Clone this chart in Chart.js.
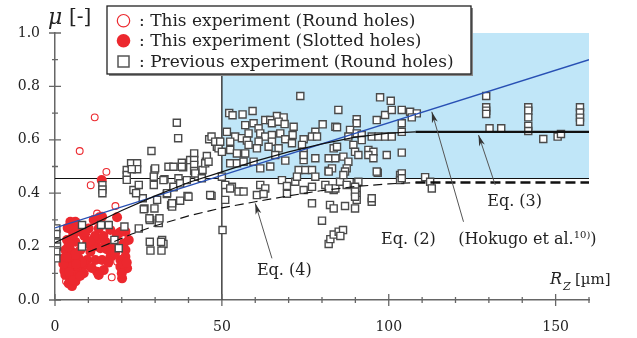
<!DOCTYPE html>
<html>
<head>
<meta charset="utf-8">
<script src="https://cdn.jsdelivr.net/npm/chart.js@4.4.0/dist/chart.umd.min.js"></script>
<style>
  html, body { margin: 0; padding: 0; background: #fff; }
  #wrap { width: 637px; height: 338px; }
</style>
</head>
<body>
<div id="wrap"><canvas id="chart" width="637" height="338"></canvas></div>
<script>
// tick labels
const xTickLabels = [0, 50, 100, 150];
const yTickLabels = ['0.0', '0.2', '0.4', '0.6', '0.8', '1.0'];

// legend labels
const seriesNames = [
  ': This experiment (Round holes)',
  ': This experiment (Slotted holes)',
  ': Previous experiment (Round holes)'
];

// this experiment, round holes  [Rz, mu]
const roundHoles = [
  [11.9, 0.684], [7.4, 0.558], [15.4, 0.48], [10.7, 0.43], [18.1, 0.352], [12.6, 0.324],
  [9.6, 0.236], [18.6, 0.143], [17, 0.085], [3.3, 0.07]
];

// this experiment, slotted holes
const slottedHoles = [
  [4.6, 0.293], [6.1, 0.293], [11.6, 0.3], [14.1, 0.312], [18.6, 0.31], [14, 0.449],
  [5.1, 0.262], [7.6, 0.256], [10.1, 0.268], [13.1, 0.268], [16.6, 0.262], [19.1, 0.25], [21.1, 0.256], [22.1, 0.225],
  [3.6, 0.225], [6.1, 0.218], [9.6, 0.212], [12.6, 0.225], [15.1, 0.218], [17.6, 0.212], [20.6, 0.212],
  [3.1, 0.187], [5.1, 0.181], [7.6, 0.187], [10.6, 0.181], [13.6, 0.194], [16.6, 0.187], [21.1, 0.187],
  [2.6, 0.156], [4.6, 0.15], [7.1, 0.156], [9.6, 0.15], [12.1, 0.15], [14.1, 0.15], [16.6, 0.162], [19.6, 0.15], [21.1, 0.162],
  [3.1, 0.125], [5.1, 0.125], [7.1, 0.119], [9.1, 0.131], [12.6, 0.106], [14.6, 0.112], [19.6, 0.125], [21.6, 0.119],
  [3.1, 0.094], [4.6, 0.087], [6.6, 0.094], [13.1, 0.094], [20.1, 0.081],
  [4.1, 0.062], [5.1, 0.052], [6.1, 0.069], [8.6, 0.1],
  [3.8, 0.27], [5.5, 0.245], [8.8, 0.24], [13.3, 0.31], [19.8, 0.256], [4, 0.2], [6, 0.17], [8, 0.14],
  [2.8, 0.11], [4.2, 0.105], [6.3, 0.135], [5.5, 0.075], [7.5, 0.09], [11, 0.12], [11.5, 0.2], [12, 0.24],
  [14.5, 0.24], [15.5, 0.19], [16, 0.14], [18, 0.175], [18.5, 0.24], [20, 0.1], [20.5, 0.135], [21.5, 0.14],
  [10.5, 0.22], [9, 0.255], [7, 0.275], [4.5, 0.21], [2.5, 0.135], [3.5, 0.16]
];

// previous experiments, round holes
const previousRound = [
  [0.4, 0.268], [0.4, 0.247], [0.5, 0.215], [0.6, 0.2], [0.4, 0.181], [0.4, 0.156],
  [8.1, 0.281], [16.1, 0.281], [20.8, 0.275], [13.8, 0.281], [8.1, 0.2], [19.1, 0.194], [17.8, 0.225],
  [14.2, 0.43], [14.2, 0.414], [14.2, 0.4],
  [21.5, 0.487], [21.5, 0.468], [21.5, 0.45], [22.8, 0.512], [24.6, 0.512], [24.6, 0.49], [23, 0.49],
  [23.5, 0.412], [25.1, 0.431], [26.3, 0.381], [24.3, 0.4],
  [28.9, 0.558], [36.5, 0.664], [36.9, 0.606], [29.8, 0.487], [29.6, 0.462], [29.6, 0.431], [32.8, 0.452],
  [34, 0.499], [35.5, 0.422], [37, 0.456], [38, 0.514], [38.4, 0.497], [40.5, 0.524], [41.7, 0.549],
  [41.7, 0.524], [41.7, 0.506], [41.7, 0.483], [42.9, 0.462], [44.2, 0.487], [45.2, 0.518], [45.5, 0.539],
  [46.2, 0.602], [46.9, 0.612], [48.5, 0.574], [49.2, 0.593], [46.9, 0.39], [39.7, 0.39], [37.5, 0.372],
  [33.5, 0.397], [34.8, 0.356], [30.6, 0.375], [26.8, 0.343], [29.8, 0.343],
  [26.6, 0.34], [28.4, 0.3], [31.1, 0.3], [31.1, 0.288], [25.1, 0.268], [28.4, 0.218], [28.6, 0.185],
  [32.1, 0.225], [32.5, 0.21], [31.9, 0.185], [35.1, 0.35], [35.1, 0.362], [40, 0.387], [33.6, 0.4],
  [35.5, 0.424], [37.5, 0.437], [39.5, 0.449], [32.5, 0.449], [38, 0.499], [42, 0.474], [44, 0.456],
  [45, 0.512], [46.5, 0.393], [50.2, 0.262], [28.3, 0.306], [31.3, 0.306], [31.8, 0.218],
  [35.5, 0.499], [30, 0.493], [46, 0.518], [49, 0.568],
  [73.5, 0.764], [52.2, 0.7], [53.2, 0.692], [56.2, 0.695], [59.2, 0.708], [66.5, 0.689], [68.5, 0.684],
  [63, 0.674], [64.5, 0.674], [80.2, 0.658], [57, 0.655], [59.5, 0.662], [61, 0.643], [65, 0.662],
  [67, 0.668], [68.8, 0.659], [71.5, 0.649], [78, 0.63], [84, 0.649], [51.5, 0.63], [54, 0.612],
  [56, 0.606], [58, 0.624], [61.5, 0.624], [63, 0.612], [65, 0.618], [67.5, 0.624], [71.2, 0.618],
  [74.5, 0.602], [77, 0.612], [78.5, 0.612], [48, 0.593], [49.5, 0.593], [52.5, 0.593], [57.5, 0.597],
  [61, 0.593], [65, 0.593], [69, 0.602], [71, 0.587], [74, 0.581],
  [50, 0.555], [52.5, 0.562], [54.5, 0.549], [57, 0.549], [58, 0.581], [60.5, 0.568], [64, 0.574],
  [67, 0.568], [74.5, 0.555], [78, 0.531], [82, 0.531], [83.5, 0.568],
  [52.5, 0.512], [54.5, 0.512], [56.5, 0.518], [59.5, 0.518], [66, 0.543], [69, 0.522], [74.5, 0.524],
  [74.5, 0.543], [61.5, 0.493], [64.5, 0.5], [73, 0.487], [75, 0.487], [77, 0.487], [82, 0.484],
  [78, 0.462], [50, 0.462],
  [53, 0.424], [55, 0.406], [56.5, 0.406], [61.5, 0.431], [63, 0.418], [68, 0.449], [69.5, 0.427],
  [72, 0.443], [72.5, 0.462], [74.5, 0.412], [77, 0.424], [81, 0.431], [83.5, 0.412], [60.5, 0.393],
  [69.5, 0.398], [51, 0.431], [52.5, 0.418], [62.5, 0.397], [84, 0.418], [85.4, 0.443], [87.4, 0.431],
  [90.4, 0.437], [90.4, 0.412], [90.4, 0.393], [90.4, 0.375], [94.9, 0.368], [77, 0.362], [82.4, 0.356],
  [83.5, 0.343], [86.9, 0.352], [89.9, 0.343], [80, 0.297], [82, 0.21], [82.5, 0.228], [83.5, 0.245],
  [85, 0.256], [86.3, 0.262], [85.5, 0.24], [51, 0.375], [103.4, 0.468], [103.4, 0.449], [96.7, 0.477],
  [97.4, 0.759], [100.6, 0.746], [84.9, 0.712], [98.9, 0.693], [100.9, 0.712], [103.9, 0.712],
  [106.4, 0.705], [108.4, 0.699], [106.9, 0.684], [96.4, 0.674], [90.4, 0.677], [90.4, 0.662],
  [103.9, 0.662], [103.9, 0.63], [84.5, 0.647], [88.4, 0.637], [90.4, 0.624], [91.9, 0.618],
  [94.9, 0.612], [96.9, 0.612], [98.9, 0.612], [100.9, 0.612], [87.9, 0.612], [91.9, 0.599],
  [89.4, 0.581], [84.5, 0.574], [89.9, 0.555], [90.9, 0.543], [93.9, 0.562], [95.4, 0.555],
  [93.9, 0.543], [95.4, 0.531], [99.4, 0.543], [103.9, 0.552], [84, 0.531], [86.4, 0.537],
  [87.9, 0.518], [83, 0.493], [87.4, 0.493], [86.9, 0.481], [82, 0.481], [86.4, 0.468], [96.4, 0.481],
  [103.9, 0.474], [103.9, 0.456], [110.9, 0.46], [112.4, 0.443], [112.9, 0.418], [90.9, 0.443],
  [82, 0.418], [89.9, 0.424], [89.9, 0.406], [89.9, 0.387], [94.9, 0.381],
  [129.2, 0.764], [129.2, 0.722], [129.2, 0.709], [129.2, 0.697], [130.2, 0.643], [133.7, 0.643],
  [141.8, 0.722], [141.8, 0.709], [141.8, 0.684], [141.8, 0.652], [141.8, 0.633], [146.3, 0.603],
  [150.6, 0.612], [151.6, 0.622], [157.3, 0.722], [157.3, 0.702], [157.3, 0.683], [157.3, 0.668]
];

// fitted curves
const eq2Line = [[0, 0.27], [160, 0.9]];
const eq3Curve = [[0, 0.215], [10, 0.275], [20, 0.335], [30, 0.39], [40, 0.44], [50, 0.48], [60, 0.52],
  [70, 0.555], [80, 0.585], [90, 0.61], [100, 0.625], [108, 0.63]];
const eq3Flat = [[108, 0.63], [160, 0.63]];
const eq4Curve = [[10, 0.18], [17, 0.215], [23, 0.247], [30, 0.278], [40, 0.315], [50, 0.345], [60, 0.368],
  [70, 0.39], [80, 0.41], [90, 0.425], [100, 0.435], [108, 0.44]];
const eq4Flat = [[108, 0.44], [160, 0.44]];

// region box (Rz >= 50, mu >= threshold)
const boxX = [50, 160];
const boxY = [0.455, 1.0];

const SERIF = '"DejaVu Serif", "Liberation Serif", serif';
const RED = 'rgb(236,40,46)';

const toXY = arr => arr.map(p => ({ x: p[0], y: p[1] }));

const lineSet = (pts, color, width, dash) => ({
  type: 'scatter', data: toXY(pts), showLine: true, pointRadius: 0,
  borderColor: color, borderWidth: width, borderDash: dash || [], fill: false
});

// background box and reference lines
const backdrop = {
  id: 'backdrop',
  beforeDatasetsDraw(chart) {
    const { ctx, scales: { x, y } } = chart;
    ctx.save();
    ctx.fillStyle = 'rgb(192,230,248)';
    ctx.fillRect(x.getPixelForValue(boxX[0]), y.getPixelForValue(boxY[1]),
      x.getPixelForValue(boxX[1]) - x.getPixelForValue(boxX[0]),
      y.getPixelForValue(boxY[0]) - y.getPixelForValue(boxY[1]));
    ctx.strokeStyle = '#111';
    ctx.lineWidth = 1.2;
    ctx.beginPath();
    ctx.moveTo(x.getPixelForValue(0), y.getPixelForValue(boxY[0]));
    ctx.lineTo(x.getPixelForValue(160), y.getPixelForValue(boxY[0]));
    ctx.moveTo(x.getPixelForValue(boxX[0]), y.getPixelForValue(0));
    ctx.lineTo(x.getPixelForValue(boxX[0]), y.getPixelForValue(1));
    ctx.stroke();
    ctx.restore();
  }
};

function arrow(ctx, x0, y0, x1, y1) {
  const a = Math.atan2(y1 - y0, x1 - x0);
  ctx.beginPath();
  ctx.moveTo(x0, y0);
  ctx.lineTo(x1, y1);
  ctx.stroke();
  ctx.beginPath();
  ctx.moveTo(x1, y1);
  ctx.lineTo(x1 - 11 * Math.cos(a) + 3 * Math.sin(a), y1 - 11 * Math.sin(a) - 3 * Math.cos(a));
  ctx.lineTo(x1 - 8 * Math.cos(a), y1 - 8 * Math.sin(a));
  ctx.lineTo(x1 - 11 * Math.cos(a) - 3 * Math.sin(a), y1 - 11 * Math.sin(a) + 3 * Math.cos(a));
  ctx.closePath();
  ctx.fill();
}

const overlay = {
  id: 'overlay',
  afterDraw(chart) {
    const { ctx, scales: { x, y } } = chart;
    const px = v => x.getPixelForValue(v);
    const py = v => y.getPixelForValue(v);
    ctx.save();

    // tick marks crossing the axes
    ctx.strokeStyle = '#666';
    ctx.lineWidth = 1.3;
    ctx.beginPath();
    for (let i = 0; i <= 10; i++) {
      const yy = py(i / 10), len = i % 2 === 0 ? 6 : 3;
      ctx.moveTo(px(0) - len, yy); ctx.lineTo(px(0) + len, yy);
    }
    for (let i = 0; i <= 16; i++) {
      const xx = px(i * 10), len = i % 5 === 0 ? 6 : 3;
      ctx.moveTo(xx, py(0) - len); ctx.lineTo(xx, py(0) + len);
    }
    ctx.stroke();

    // arrows
    ctx.strokeStyle = '#555';
    ctx.fillStyle = '#333';
    ctx.lineWidth = 1;
    arrow(ctx, px(65), py(0.156), px(60), py(0.362));
    arrow(ctx, px(122.4), py(0.293), px(112.9), py(0.705));
    arrow(ctx, px(131.9), py(0.431), px(126.9), py(0.618));

    // annotation texts
    ctx.fillStyle = '#222';
    ctx.textBaseline = 'middle';
    ctx.textAlign = 'left';
    ctx.font = '16px ' + SERIF;
    ctx.fillText('Eq. (4)', px(60.5), py(0.109));
    ctx.fillText('Eq. (3)', px(129.5), py(0.367));
    ctx.fillText('Eq. (2)', px(97.7), py(0.225));
    const hx = px(120.8);
    ctx.fillText('(Hokugo et al.', hx, py(0.225));
    const w1 = ctx.measureText('(Hokugo et al.').width;
    ctx.font = '10px ' + SERIF;
    ctx.fillText('10)', hx + w1, py(0.225) - 5);
    const w2 = ctx.measureText('10)').width;
    ctx.font = '16px ' + SERIF;
    ctx.fillText(')', hx + w1 + w2, py(0.225));

    // axis titles
    ctx.font = 'italic 16px ' + SERIF;
    ctx.fillText('R', 550, 280);
    ctx.font = 'italic 11px ' + SERIF;
    ctx.fillText('Z', 563, 287);
    ctx.font = '15px ' + SERIF;
    ctx.fillText('[\u00b5m]', 575, 280);
    ctx.font = 'italic 22px ' + SERIF;
    ctx.fillText('\u03bc', 48, 18);
    ctx.font = '20px ' + SERIF;
    ctx.fillText('[-]', 69, 18);

    // legend box
    const lx = 107, ly = 6, lw = 364, lh = 68;
    ctx.fillStyle = '#888';
    ctx.fillRect(lx + 2, ly + 2, lw, lh);
    ctx.fillStyle = '#fff';
    ctx.fillRect(lx, ly, lw, lh);
    ctx.strokeStyle = '#222';
    ctx.lineWidth = 1.3;
    ctx.strokeRect(lx, ly, lw, lh);

    const rows = [20.7, 40.7, 61.5];
    ctx.lineWidth = 1.2;
    ctx.strokeStyle = RED;
    ctx.beginPath(); ctx.arc(123.5, rows[0], 6.2, 0, Math.PI * 2); ctx.stroke();
    ctx.fillStyle = RED;
    ctx.beginPath(); ctx.arc(123.5, rows[1], 6.8, 0, Math.PI * 2); ctx.fill();
    ctx.strokeStyle = '#555';
    ctx.lineWidth = 1.5;
    ctx.strokeRect(118, rows[2] - 5.5, 11, 11);

    ctx.fillStyle = '#222';
    ctx.font = '17px ' + SERIF;
    seriesNames.forEach((s, i) => ctx.fillText(s, 139, rows[i] + 1));
    ctx.restore();
  }
};

new Chart(document.getElementById('chart'), {
  type: 'scatter',
  data: {
    datasets: [
      lineSet(eq4Curve, '#111', 1.2, [9, 5]),
      lineSet(eq4Flat, '#111', 2.5, [10, 5]),
      lineSet(eq3Curve, '#111', 1.2),
      lineSet(eq3Flat, '#111', 2.3),
      lineSet(eq2Line, 'rgb(40,80,180)', 1.3),
      {
        label: seriesNames[2], data: toXY(previousRound), pointStyle: 'rect', pointRadius: 5,
        backgroundColor: '#fff', borderColor: '#4a4a4a', borderWidth: 1.4
      },
      {
        label: seriesNames[1], data: toXY(slottedHoles), pointStyle: 'circle', pointRadius: 5,
        backgroundColor: RED, borderColor: RED, borderWidth: 0
      },
      {
        label: seriesNames[0], data: toXY(roundHoles), pointStyle: 'circle', pointRadius: 3.4,
        backgroundColor: 'rgba(0,0,0,0)', borderColor: RED, borderWidth: 1.1
      }
    ]
  },
  options: {
    responsive: false,
    animation: false,
    events: [],
    layout: { padding: { top: 33, right: 48, left: 0, bottom: 0 } },
    plugins: { legend: { display: false }, tooltip: { enabled: false } },
    scales: {
      x: {
        type: 'linear', min: 0, max: 160,
        grid: { display: false, drawTicks: false },
        border: { display: true, color: '#666', width: 1.5 },
        ticks: {
          stepSize: 10, autoSkip: false, maxRotation: 0, padding: 19,
          color: '#222', font: { family: SERIF, size: 14 },
          callback: v => xTickLabels.includes(v) ? String(v) : ''
        },
        afterFit: s => { s.height = 38; }
      },
      y: {
        type: 'linear', min: 0, max: 1,
        grid: { display: false, drawTicks: false },
        border: { display: true, color: '#666', width: 1.5 },
        ticks: {
          stepSize: 0.1, autoSkip: false, padding: 15,
          color: '#222', font: { family: SERIF, size: 14 },
          callback: v => {
            const k = Math.round(v * 10);
            return k % 2 === 0 ? yTickLabels[k / 2] : '';
          }
        },
        afterFit: s => { s.width = 55; }
      }
    }
  },
  plugins: [backdrop, overlay]
});
</script>
</body>
</html>
